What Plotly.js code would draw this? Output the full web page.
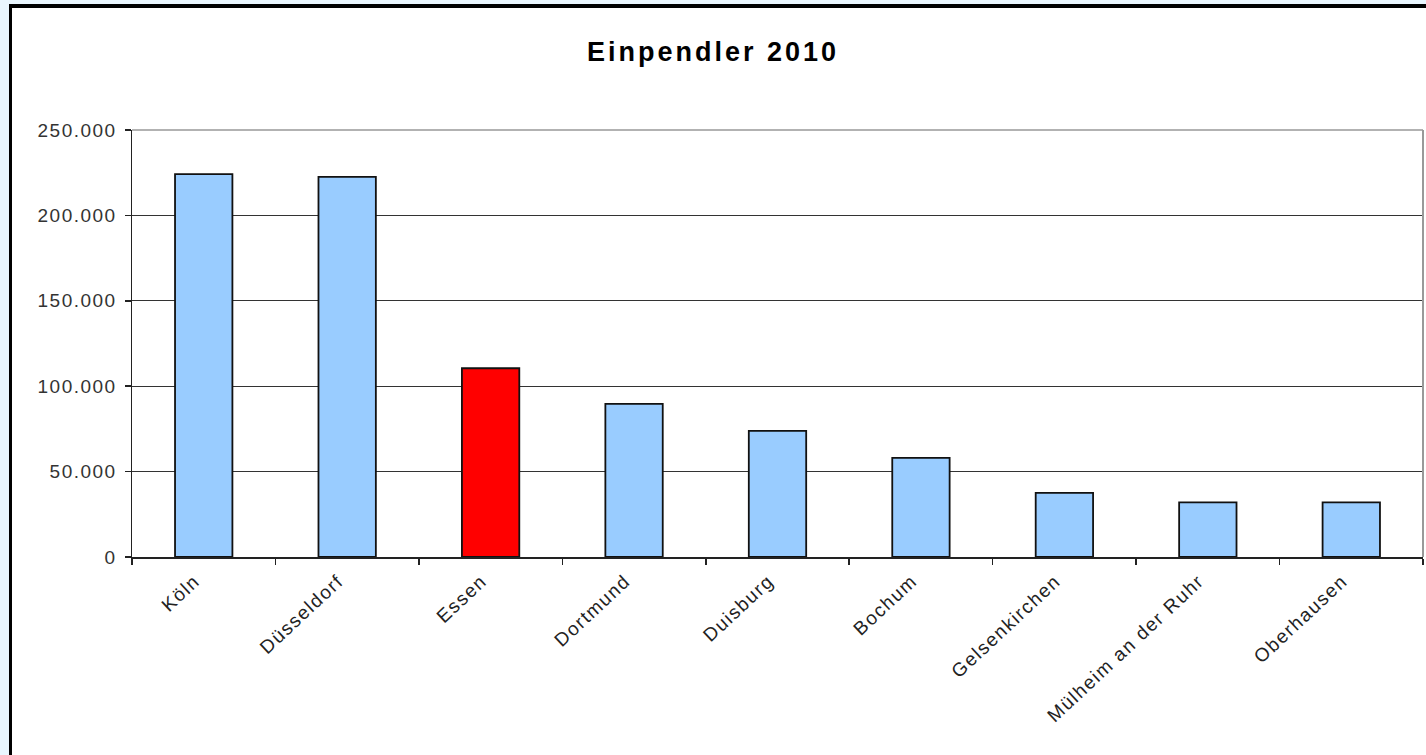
<!DOCTYPE html>
<html>
<head>
<meta charset="utf-8">
<script src="https://cdn.plot.ly/plotly-3.0.1.min.js"></script>
<style>
  html, body { margin: 0; padding: 0; background: #e9f6fe; width: 1426px; height: 755px; overflow: hidden; }
  #frame { position: absolute; left: 9px; top: 4px; width: 1417px; height: 751px; box-sizing: border-box;
           border-left: 3px solid #000; border-top: 4px solid #000; background: #fff; }
  #chart { width: 1414px; height: 747px; }
  #chart .xtick text, #chart .ytick text { letter-spacing: 1.5px; }
  #chart .gtitle { letter-spacing: 3px; }
</style>
</head>
<body>
<div id="frame"><div id="chart"></div></div>
<script>
const categories = ["Köln", "Düsseldorf", "Essen", "Dortmund", "Duisburg", "Bochum", "Gelsenkirchen", "Mülheim an der Ruhr", "Oberhausen"];
const values = [224200, 222500, 110500, 89600, 73800, 58000, 37500, 32000, 32000];
const barColors = ["#99ccff", "#99ccff", "#ff0000", "#99ccff", "#99ccff", "#99ccff", "#99ccff", "#99ccff", "#99ccff"];
const yTicks = [0, 50000, 100000, 150000, 200000, 250000];

const trace = {
  type: "bar",
  x: categories,
  y: values,
  marker: { color: barColors, line: { color: "#111", width: 1.8 } },
  hoverinfo: "x+y"
};

const layout = {
  width: 1414, height: 747,
  margin: { l: 120, r: 3, t: 122, b: 198 },
  paper_bgcolor: "#ffffff",
  plot_bgcolor: "#ffffff",
  separators: ",.",
  font: { family: "Liberation Sans, Arial, sans-serif", size: 18, color: "#333" },
  title: { text: "<b>Einpendler 2010</b>", font: { family: "Liberation Sans, Arial, sans-serif", size: 27, color: "#000" },
           x: 701/1414, xref: "container", xanchor: "center", y: 1 - 44/747, yref: "container", yanchor: "middle" },
  bargap: 0.6,
  showlegend: false,
  xaxis: {
    type: "category",
    showline: true, linecolor: "#222", linewidth: 1.5,
    ticks: "outside", ticklen: 6, tickcolor: "#222", tickwidth: 1.5,
    tickson: "boundaries",
    tickangle: -43,
    ticklabelshift: -9,
    ticklabelstandoff: 4,
    tickfont: { size: 19, color: "#222" },
    showgrid: false, zeroline: false
  },
  yaxis: {
    range: [0, 250000],
    tickvals: yTicks,
    tickformat: ",d",
    showline: true, linecolor: "#222", linewidth: 1.5,
    ticks: "outside", ticklen: 6, tickcolor: "#222", tickwidth: 1.5,
    ticklabelstandoff: 4,
    tickfont: { size: 19, color: "#333" },
    showgrid: true, gridcolor: "#333", gridwidth: 1.2,
    zeroline: false
  },
  shapes: [
    { type: "line", xref: "paper", yref: "paper", x0: 0, x1: 1, y0: 1, y1: 1, line: { color: "#999", width: 1.5 } },
    { type: "line", xref: "paper", yref: "paper", x0: 1, x1: 1, y0: 0, y1: 1, line: { color: "#999", width: 2 } }
  ]
};

Plotly.newPlot("chart", [trace], layout, { displayModeBar: false, staticPlot: true });
</script>
</body>
</html>
